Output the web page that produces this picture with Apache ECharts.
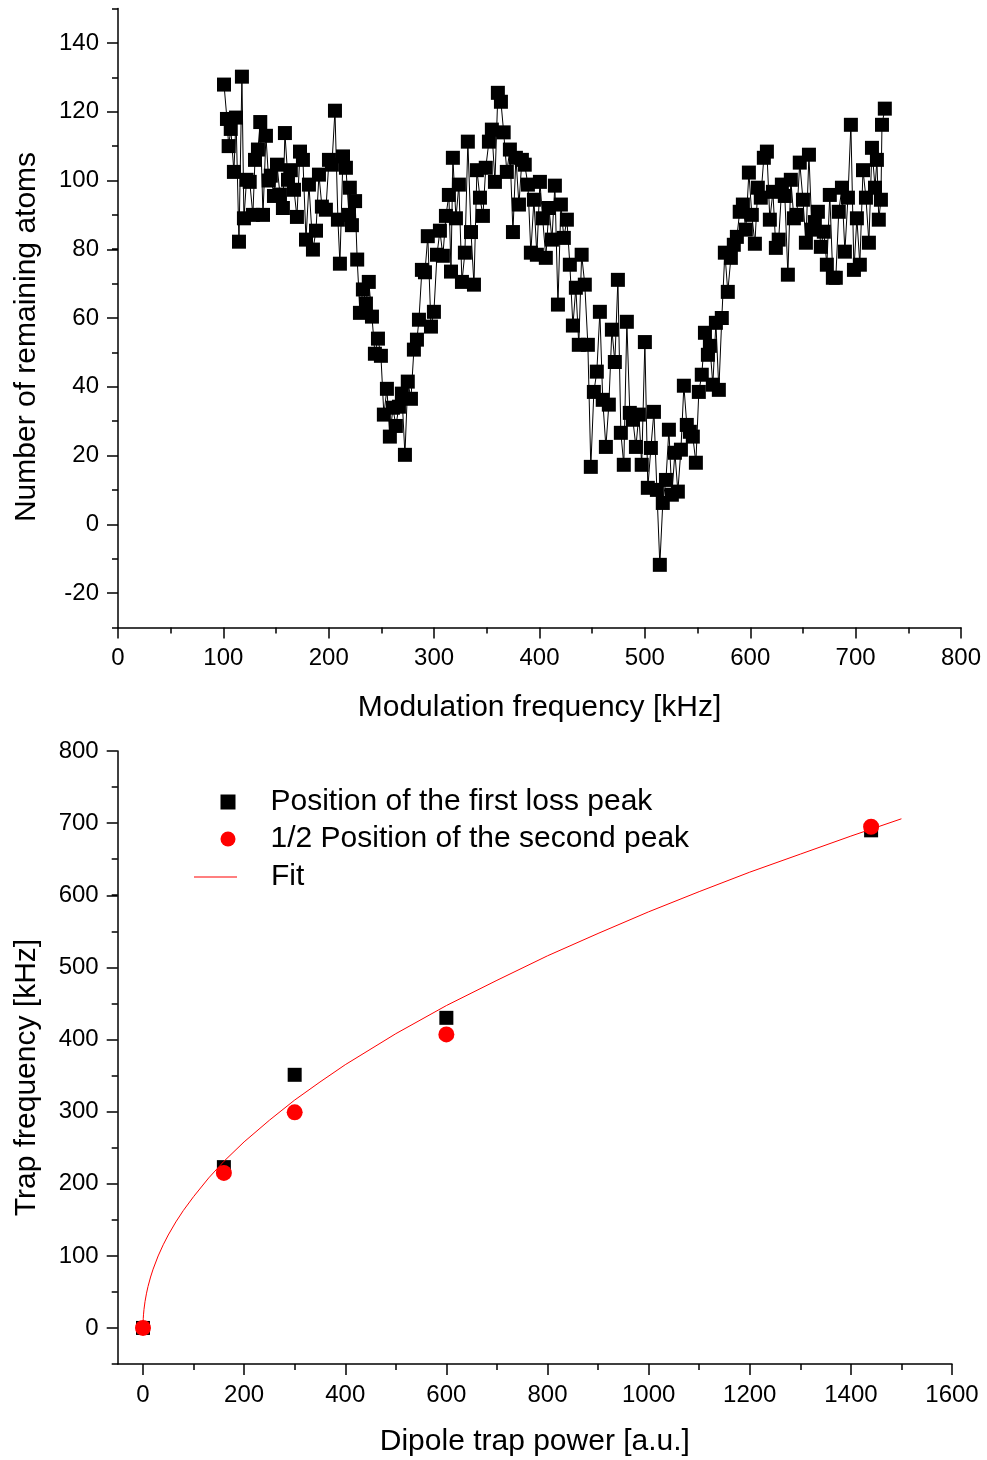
<!DOCTYPE html>
<html>
<head>
<meta charset="utf-8">
<script src="https://cdn.jsdelivr.net/npm/echarts@6/dist/echarts.min.js"></script>
<style>
  html, body { margin: 0; padding: 0; background: #fff; }
  #chart { width: 987px; height: 1460px; }
</style>
</head>
<body>
<div id="chart"></div>
<script>
// ---- top panel: atom loss spectrum ----
var freq = [100.6,103.4,105,107,110,112,114.8,117.6,119.5,122,
  125,128,130,132.8,135,137.6,140.4,143,145,148,
  150.9,153.7,156.5,158.4,161.3,164,167,169.8,172.7,175.5,
  178.4,181.2,185,187.9,190.7,193.5,197.3,200.2,203,205.9,
  208.7,210.6,213.5,216.3,219.2,220,222,225,227,229.6,
  232.4,235.3,238,241,243.8,246.7,249.5,252.3,255.2,258,
  260.9,263.7,266.6,269.4,272.3,275,278,280.8,283.7,285.6,
  288.4,291.3,294,297,299.8,302.7,305.5,308.3,311.2,314,
  316,317.8,320.7,323.5,326.4,329.2,332,335,337.8,340.6,
  343.5,346.3,349,352,354.8,357.7,360.5,363.4,366,369,
  371.9,374.8,377.6,380.5,383.3,386,389,391.8,394.7,397.5,
  400.4,403,406,409,411.8,414.6,417.5,420.3,423.1,426,
  428.8,431.7,434.5,437.3,440,443,445.9,448.7,451.6,454.4,
  457.3,460,463,465.8,468.7,471.5,474.4,477.2,480,482.9,
  485.7,488.6,491.5,494.3,497,500,502.8,505.7,508.6,511.4,
  514.2,517,520,522.8,525.6,528.5,531.3,534.2,537,539.8,
  542.7,545.5,548.4,551.2,554,557,559.8,561.7,564.5,567.4,
  570.2,573,575.9,578.7,581.6,584.4,587.3,590,593,595.8,
  598.7,601.5,604.4,607.2,610,612.9,615.8,618.6,621.5,624.3,
  627,630,632.8,635.7,638.5,641.4,644.2,647,650,652.8,
  655.7,658.5,661.3,664.2,667,669.8,672.7,675.5,678.4,681.2,
  684,687,689.8,692.7,695.5,698.4,701.2,704,707,709.8,
  712.6,715.5,718.4,720.2,722,724,725,727.7];

var atoms = [127.9,117.9,110,115,102.5,118.3,82.2,130.2,89,100.2,
  99.6,90,106,109,117,90,113,100,101.4,95.5,
  104.6,95.9,92,113.8,100.2,103,97.3,89.4,108.4,106,
  82.8,98.8,79.9,85.4,101.7,92.4,91.5,106,104.6,120.3,
  88.6,75.8,107,103.7,90,97.9,87,94,77,61.5,
  68.3,64.2,70.5,60.4,49.6,54,49,31.9,39.4,25.5,
  33.9,28.6,34.2,38,20.2,41.5,36.5,50.8,53.7,59.5,
  74,73.3,83.8,57.5,61.8,78.4,85.4,78.1,89.7,95.8,
  73.5,106.6,89,98.8,70.5,79,111.3,85,69.7,103,
  95,89.7,103.7,111.3,114.8,99.6,125.5,122.9,114,102.5,
  109,85,106.6,93,106,104.6,98.8,79,94.4,78.4,
  99.6,89,77.5,92,82.8,98.5,63.9,93,83.3,88.6,
  75.5,57.8,68.8,52.2,78.4,69.7,52.2,16.7,38.5,44.4,
  61.8,36.2,22.5,34.8,56.6,47.2,71.1,26.6,17.3,58.9,
  32.4,30.4,22.5,31.9,17.3,53,10.6,22.2,32.7,10,
  -11.8,6.2,12.9,27.5,8.6,20.8,9.5,21.7,40.3,28.9,
  26.9,25.5,17.9,38.5,43.5,55.7,49.3,51.9,40.6,58.6,
  39.1,60,79,67.6,77.5,81.3,83.6,90.9,93,85.7,
  102.3,90,81.6,97.9,95,106.6,108.4,88.6,96.7,80.4,
  82.8,98.8,95.5,72.6,100.2,89,90,105.2,94.4,81.9,
  107.5,85.7,87.9,90.9,80.7,85.1,75.5,95.8,71.7,71.7,
  90.9,97.9,79.3,95,116.2,74,89,75.5,103,95,
  81.9,109.5,97.9,106,88.6,94.4,116.2,120.9];

// ---- bottom panel: trap frequency vs power ----
var power = [0, 160, 300, 600, 1440];
var firstPeak = [0, 223, 351, 430, 690];
var secondPeakHalf = [0, 215, 299, 407, 695];
var fitPower = [0,0.5,1,2,4,7,10,15,20,30,40,50,65,80,100,130,160,200,250,300,350,400,500,600,700,800,900,1000,1100,1200,1300,1400,1500];
var fitFreq = [0,12.9,18.2,25.8,36.5,48.2,57.6,70.6,81.5,99.8,115.3,128.9,147,163,182,208,231,258,288,316,341,365,408,447,482,516,547,577,605,632,657,682,706];

function zip(a, b) {
  var out = [];
  for (var i = 0; i < a.length; i++) out.push([a[i], b[i]]);
  return out;
}

var FONT = 'Liberation Sans, Arial, sans-serif';
var axisLine = { show: true, onZero: false, lineStyle: { color: '#000', width: 1.5 } };
var noLine = { show: false, onZero: false };
var tickStyle = { color: '#000', width: 1.5 };
var plain = function (v) { return String(v); };
var labelStyle = { color: '#000', fontSize: 24, fontFamily: FONT, margin: 19, formatter: plain };
var nameStyle = { color: '#000', fontSize: 30, fontFamily: FONT };

var myChart = echarts.init(document.getElementById('chart'), null, { renderer: 'canvas' });

var option = {
  animation: false,
  backgroundColor: '#fff',
  textStyle: { fontFamily: FONT, color: '#000' },
  grid: [
    { left: 118, top: 8.6, width: 843, height: 618.8, outerBoundsMode: 'none' },   // top data
    { left: 118, top: 43, width: 843, height: 550, outerBoundsMode: 'none' },      // top y major ticks
    { left: 117.7, top: 751, width: 834.3, height: 613, outerBoundsMode: 'none' }, // bottom data
    { left: 143, top: 751, width: 809, height: 613, outerBoundsMode: 'none' },     // bottom x ticks
    { left: 117.7, top: 751, width: 834.3, height: 577, outerBoundsMode: 'none' }  // bottom y ticks
  ],
  xAxis: [
    {
      gridIndex: 0, type: 'value', min: 0, max: 800, interval: 100,
      axisLine: axisLine,
      axisTick: { length: 11, lineStyle: tickStyle },
      minorTick: { show: true, splitNumber: 2, length: 6, lineStyle: tickStyle },
      axisLabel: labelStyle,
      splitLine: { show: false },
      name: 'Modulation frequency [kHz]', nameLocation: 'middle', nameGap: 65,
      nameTextStyle: nameStyle
    },
    { gridIndex: 1, type: 'value', min: 0, max: 800, show: false, axisLine: noLine },
    {
      gridIndex: 2, type: 'value', min: -50, max: 1600,
      axisLine: axisLine,
      axisTick: { show: false },
      axisLabel: { show: false },
      splitLine: { show: false },
      name: 'Dipole trap power [a.u.]', nameLocation: 'middle', nameGap: 63,
      nameTextStyle: nameStyle
    },
    {
      gridIndex: 3, type: 'value', min: 0, max: 1600, interval: 200,
      axisLine: noLine,
      axisTick: { length: 11, lineStyle: tickStyle },
      minorTick: { show: true, splitNumber: 2, length: 6, lineStyle: tickStyle },
      axisLabel: labelStyle,
      splitLine: { show: false }
    },
    { gridIndex: 4, type: 'value', min: -50, max: 1600, show: false, axisLine: noLine }
  ],
  yAxis: [
    {
      gridIndex: 0, type: 'value', min: -30, max: 150, interval: 10,
      axisLine: axisLine,
      axisTick: { length: 6, lineStyle: tickStyle },
      axisLabel: { show: false },
      splitLine: { show: false },
      name: 'Number of remaining atoms', nameLocation: 'middle', nameGap: 76,
      nameTextStyle: Object.assign({ padding: [0, 38, 0, 0] }, nameStyle)
    },
    {
      gridIndex: 1, type: 'value', min: -20, max: 140, interval: 20,
      axisLine: noLine,
      axisTick: { length: 11, lineStyle: tickStyle },
      axisLabel: labelStyle,
      splitLine: { show: false }
    },
    {
      gridIndex: 2, type: 'value', min: -50, max: 800, interval: 50,
      axisLine: axisLine,
      axisTick: { length: 6, lineStyle: tickStyle },
      axisLabel: { show: false },
      splitLine: { show: false },
      name: 'Trap frequency [kHz]', nameLocation: 'middle', nameGap: 76,
      nameTextStyle: Object.assign({ padding: [0, 40, 0, 0] }, nameStyle)
    },
    { gridIndex: 3, type: 'value', min: -50, max: 800, show: false, axisLine: noLine },
    {
      gridIndex: 4, type: 'value', min: 0, max: 800, interval: 100,
      axisLine: noLine,
      axisTick: { length: 11, lineStyle: tickStyle },
      axisLabel: labelStyle,
      splitLine: { show: false }
    }
  ],
  legend: [
    {
      data: ['Position of the first loss peak', '1/2 Position of the second peak'],
      orient: 'vertical', left: 220.5, top: 787, padding: 0,
      itemWidth: 15, itemHeight: 15, itemGap: 7,
      selectedMode: false,
      textStyle: { color: '#000', fontSize: 30, fontFamily: FONT, lineHeight: 30, padding: [0, 0, 0, 30] }
    },
    {
      data: [{ name: 'Fit', icon: 'rect' }],
      orient: 'vertical', left: 194, top: 862, padding: 0,
      itemWidth: 43, itemHeight: 1.2,
      selectedMode: false,
      itemStyle: { color: '#ff0000' },
      textStyle: { color: '#000', fontSize: 30, fontFamily: FONT, lineHeight: 30, padding: [0, 0, 0, 29] }
    }
  ],
  series: [
    {
      type: 'line', xAxisIndex: 0, yAxisIndex: 0,
      data: zip(freq, atoms),
      symbol: 'rect', symbolSize: 14, showAllSymbol: true,
      itemStyle: { color: '#000' },
      lineStyle: { color: '#000', width: 1 }
    },
    {
      name: 'Position of the first loss peak',
      type: 'scatter', xAxisIndex: 2, yAxisIndex: 2,
      data: zip(power, firstPeak),
      symbol: 'rect', symbolSize: 14,
      itemStyle: { color: '#000', opacity: 1 }
    },
    {
      name: '1/2 Position of the second peak',
      type: 'scatter', xAxisIndex: 2, yAxisIndex: 2,
      data: zip(power, secondPeakHalf),
      symbol: 'circle', symbolSize: 16,
      itemStyle: { color: '#ff0000', opacity: 1 }
    },
    {
      name: 'Fit',
      type: 'line', xAxisIndex: 2, yAxisIndex: 2,
      data: zip(fitPower, fitFreq),
      symbol: 'none',
      itemStyle: { color: '#ff0000' },
      lineStyle: { color: '#ff0000', width: 1 }
    }
  ]
};

myChart.setOption(option);
</script>
</body>
</html>
